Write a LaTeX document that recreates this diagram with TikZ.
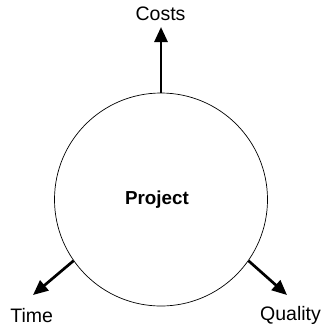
\documentclass[tikz,border=0pt]{standalone}
\usepackage{fontspec}
\setmainfont{Liberation Sans}
\usetikzlibrary{arrows.meta}
\begin{document}
\begin{tikzpicture}[x=1pt,y=-1pt,
  lbl/.style={font=\fontsize{19.5}{22}\selectfont, inner sep=0pt, anchor=base},
  bigarrow/.style={line width=2.7pt, -{Triangle[length=15pt,width=13pt]}}]
\useasboundingbox (0,0) rectangle (328,325);
\node[draw, circle, line width=0.7pt, minimum size=213pt, inner sep=0pt] (P) at (161,199.5) {};
\node[lbl, font=\fontsize{18.8}{22}\selectfont\bfseries] (proj) at (157,204) {Project};
\node[lbl] (costs) at (160.5,20.7) {Costs};
\node[lbl] (time) at (31.7,322) {Time};
\node[lbl] (quality) at (290.5,320.6) {Quality};
\coordinate (ct) at (161,27);
\coordinate (tt) at (33,295);
\coordinate (qt) at (287,295);
\draw[bigarrow] (P.north) -- (ct);
\draw[bigarrow] (P.215) -- (tt);
\draw[bigarrow] (P.-35) -- (qt);
\end{tikzpicture}
\end{document}
